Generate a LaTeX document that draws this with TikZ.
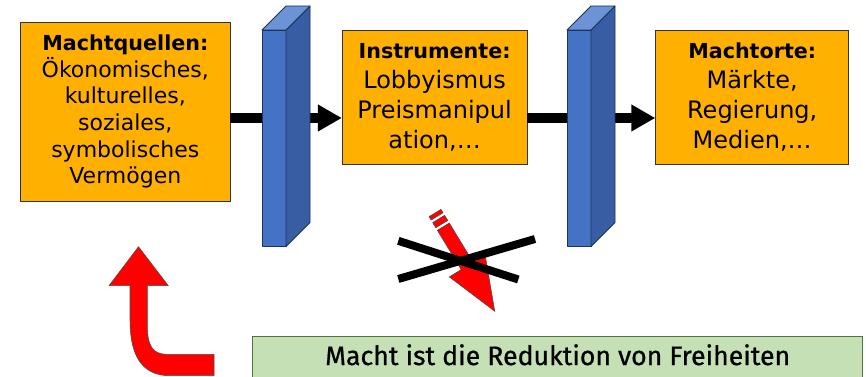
\documentclass[tikz,border=0pt]{standalone}
\usepackage{fontspec}
\setmainfont{DejaVu Sans}
\newfontfamily\notefont[FakeBold=0.7]{Fira Sans}
\usetikzlibrary{arrows.meta, calc, positioning}
\definecolor{machtorange}{rgb}{1.0, 0.69, 0.0}
\definecolor{panelfront}{rgb}{0.267, 0.447, 0.769}
\definecolor{panelside}{rgb}{0.22, 0.365, 0.639}
\definecolor{paneltop}{rgb}{0.42, 0.576, 0.835}
\definecolor{paneledge}{rgb}{0.12, 0.2, 0.35}
\definecolor{notegreen}{rgb}{0.773, 0.878, 0.706}
\definecolor{noteedge}{rgb}{0.33, 0.46, 0.22}

\begin{document}
\begin{tikzpicture}[x=0.75pt, y=-0.75pt,
        box/.style={draw=black!80, fill=machtorange, line width=0.6pt, align=center, inner sep=0pt},
        flow/.style={line width=8pt, -{Triangle[length=18pt, width=19pt]}},
        panel/.style={draw=paneledge, line width=0.6pt, line join=round},
        redarrow/.style={fill=red, draw=black!70, line width=0.4pt}]
    \useasboundingbox (0,0) rectangle (866,377);

    \node[box, minimum width=157pt, minimum height=134pt, font=\fontsize{16.5}{20}\selectfont] (Quellen) at (125.3, 111.7)
        {{\fontsize{15.5}{20}\selectfont\bfseries Machtquellen:}\\Ökonomisches,\\kulturelles,\\soziales,\\symbolisches\\Vermögen};
    \node[box, minimum width=138.5pt, minimum height=100.5pt, font=\fontsize{18}{22.5}\selectfont] (Instrumente) at (434.6, 97)
        {{\fontsize{15.5}{22.5}\selectfont\bfseries Instrumente:}\\Lobbyismus\\Preismanipul\\ation,\dots};
    \node[box, minimum width=144.75pt, minimum height=100.5pt, font=\fontsize{18}{22.5}\selectfont] (Orte) at (752.2, 97)
        {{\fontsize{15.5}{22.5}\selectfont\bfseries Machtorte:}\\Märkte,\\Regierung,\\Medien,\dots};

    \coordinate (row) at (0, 118);
    \draw[flow] (Quellen.east |- row) -- (Instrumente.west |- row);
    \draw[flow] (Instrumente.east |- row) -- (Orte.west |- row);

    % filter walls
    \foreach \px in {262, 567} {
        \filldraw[panel, fill=panelfront] (\px, 30) rectangle (\px+24, 246.5);
        \filldraw[panel, fill=panelside] (\px+24, 30) -- (\px+48, 6) -- (\px+48, 222.5) -- (\px+24, 246.5) -- cycle;
        \filldraw[panel, fill=paneltop] (\px, 30) -- (\px+24, 6) -- (\px+48, 6) -- (\px+24, 30) -- cycle;
    }

    % blocked arrow
    \begin{scope}[shift={(435, 213)}, rotate=-58.7]
        \filldraw[redarrow] (0, -7) rectangle (4, 7);
        \filldraw[redarrow] (7, -7) rectangle (13, 7);
        \filldraw[redarrow] (16, -7) -- (62, -7) -- (62, -21) -- (115, 0) -- (62, 21) -- (62, 7) -- (16, 7) -- cycle;
    \end{scope}
    \draw[line width=6pt] (398.3, 240.8) -- (518.3, 279.5);
    \draw[line width=6pt] (398.3, 279) -- (535, 239);

    % feedback arrow
    \filldraw[redarrow] (138.5, 246.7) -- (168.3, 285.7) -- (147.3, 285.7) -- (147.3, 325)
        .. controls (147.3, 345) and (152, 354.3) .. (167, 354.3) -- (214, 354.3) -- (214, 375.7) -- (170, 375.7)
        .. controls (145, 375.7) and (130, 360) .. (130, 320) -- (130, 285.7) -- (109, 285.7) -- cycle;

    \node[draw=noteedge, fill=notegreen, line width=0.8pt, minimum width=457.5pt, minimum height=32.7pt,
        text height=14.5pt, text depth=4.7pt, font=\notefont\fontsize{20}{24}\selectfont] (Freiheit) at (557.7, 358.5)
        {Macht ist die Reduktion von Freiheiten};
\end{tikzpicture}
\end{document}
